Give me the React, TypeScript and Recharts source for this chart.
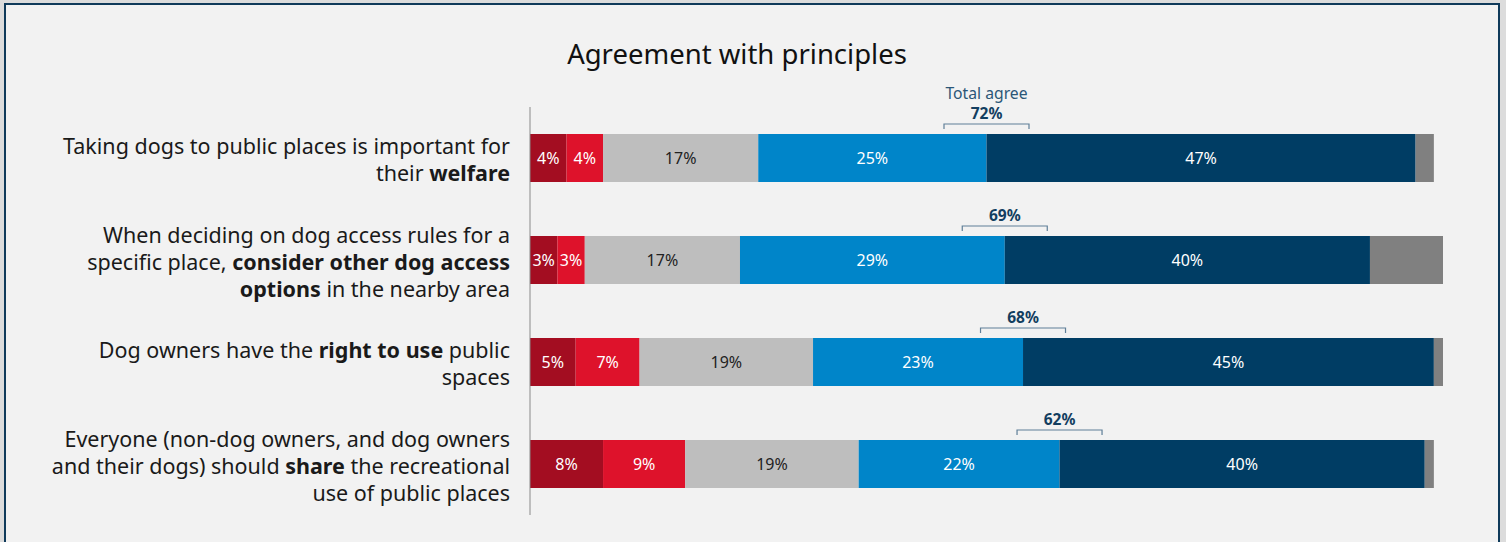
import React from 'react';
import { BarChart, Bar, XAxis, YAxis, LabelList } from 'recharts';

const categories = [
  'Taking dogs to public places is important for their welfare',
  'When deciding on dog access rules for a specific place, consider other dog access options in the nearby area',
  'Dog owners have the right to use public spaces',
  'Everyone (non-dog owners, and dog owners and their dogs) should share the recreational use of public places',
];
const labelLines = [
  ['Taking dogs to public places is important for', 'their **welfare**'],
  ['When deciding on dog access rules for a', 'specific place, **consider other dog access**', '**options** in the nearby area'],
  ['Dog owners have the **right to use** public', 'spaces'],
  ['Everyone (non-dog owners, and dog owners', 'and their dogs) should **share** the recreational', 'use of public places'],
];
const stronglyDisagree = [4, 3, 5, 8];
const disagree = [4, 3, 7, 9];
const neutral = [17, 17, 19, 19];
const agree = [25, 29, 23, 22];
const stronglyAgree = [47, 40, 45, 40];
const noAnswer = [2, 8, 1, 1];
const totalAgree = [72, 69, 68, 62];

const FONT = '"Noto Sans", sans-serif';

const data = categories.map((name, i) => ({
  name,
  sd: stronglyDisagree[i],
  d: disagree[i],
  n: neutral[i],
  a: agree[i],
  sa: stronglyAgree[i],
  na: noAnswer[i],
}));

const renderSegments = (line: string) => {
  const parts = line.split('**');
  return parts.map((p, j) =>
    p ? (
      <tspan key={j} fontWeight={j % 2 === 1 ? 700 : 400}>
        {p}
      </tspan>
    ) : null
  );
};

const CategoryTick = (props: any) => {
  const { x, y, payload } = props;
  const idx = categories.indexOf(payload.value);
  const lines = labelLines[idx] || [payload.value];
  const lh = 27;
  const start = y + 2 - ((lines.length - 1) * lh) / 2;
  return (
    <g>
      {lines.map((l, k) => (
        <text
          key={k}
          x={x}
          y={start + k * lh}
          dy="0.35em"
          textAnchor="end"
          fontFamily={FONT}
          fontSize={21.5}
          fill="#1a1a1a"
        >
          {renderSegments(l)}
        </text>
      ))}
    </g>
  );
};

const Bracket = (props: any) => {
  const vb = props.viewBox || {};
  const x = vb.x ?? props.x;
  const y = vb.y ?? props.y;
  const index = props.index;
  const half = 42.5;
  const top = y - 10;
  return (
    <g>
      <path
        d={`M${x - half},${top + 5} V${top} H${x + half} V${top + 5}`}
        stroke="#5f7f98"
        strokeWidth={1.2}
        fill="none"
      />
      <text
        x={x}
        y={top - 5}
        textAnchor="middle"
        fontFamily={FONT}
        fontSize={15.5}
        fontWeight={700}
        fill="#123e60"
      >
        {totalAgree[index]}%
      </text>
      {index === 0 && (
        <text
          x={x}
          y={top - 25}
          textAnchor="middle"
          fontFamily={FONT}
          fontSize={15.7}
          fill="#2b5677"
        >
          Total agree
        </text>
      )}
    </g>
  );
};

const pct = (v: any) => `${v}%`;

export default function App() {
  return (
    <div
      style={{
        position: 'absolute',
        left: 0,
        top: 0,
        width: 1506,
        height: 542,
        background: '#dcdcdc',
        overflow: 'hidden',
      }}
    >
      <div
        style={{
          position: 'absolute',
          left: 4,
          top: 3,
          width: 1496,
          height: 560,
          background: '#f2f2f2',
          border: '2px solid #0f3a5a',
          boxSizing: 'border-box',
        }}
      />
      <div
        style={{
          position: 'absolute',
          left: 437,
          width: 600,
          top: 36,
          textAlign: 'center',
          fontFamily: FONT,
          fontSize: 27.5,
          color: '#111',
          lineHeight: '36px',
        }}
      >
        Agreement with principles
      </div>
      <div style={{ position: 'absolute', left: 0, top: 0 }}>
        <BarChart
          width={1506}
          height={542}
          data={data}
          layout="vertical"
          margin={{ top: 107, right: 63, bottom: 27, left: 0 }}
          barSize={48}
        >
          <XAxis type="number" domain={[0, 100]} hide />
          <YAxis
            type="category"
            dataKey="name"
            width={530}
            axisLine={{ stroke: '#8a8a8a', strokeWidth: 1 }}
            tickLine={false}
            tickSize={0}
            tickMargin={20}
            tick={<CategoryTick />}
            interval={0}
          />
          <Bar dataKey="sd" stackId="s" fill="#a30d21" isAnimationActive={false}>
            <LabelList dataKey="sd" position="center" fill="#ffffff" fontSize={16} fontFamily={FONT} formatter={pct} />
          </Bar>
          <Bar dataKey="d" stackId="s" fill="#de122b" isAnimationActive={false}>
            <LabelList dataKey="d" position="center" fill="#ffffff" fontSize={16} fontFamily={FONT} formatter={pct} />
          </Bar>
          <Bar dataKey="n" stackId="s" fill="#bebebe" isAnimationActive={false}>
            <LabelList dataKey="n" position="center" fill="#222222" fontSize={16} fontFamily={FONT} formatter={pct} />
          </Bar>
          <Bar dataKey="a" stackId="s" fill="#0085c9" isAnimationActive={false}>
            <LabelList dataKey="a" position="center" fill="#ffffff" fontSize={16} fontFamily={FONT} formatter={pct} />
          </Bar>
          <Bar dataKey="sa" stackId="s" fill="#003d64" isAnimationActive={false}>
            <LabelList dataKey="sa" position="center" fill="#ffffff" fontSize={16} fontFamily={FONT} formatter={pct} />
            <LabelList dataKey="sa" content={<Bracket />} />
          </Bar>
          <Bar dataKey="na" stackId="s" fill="#808080" isAnimationActive={false} />
        </BarChart>
      </div>
    </div>
  );
}
